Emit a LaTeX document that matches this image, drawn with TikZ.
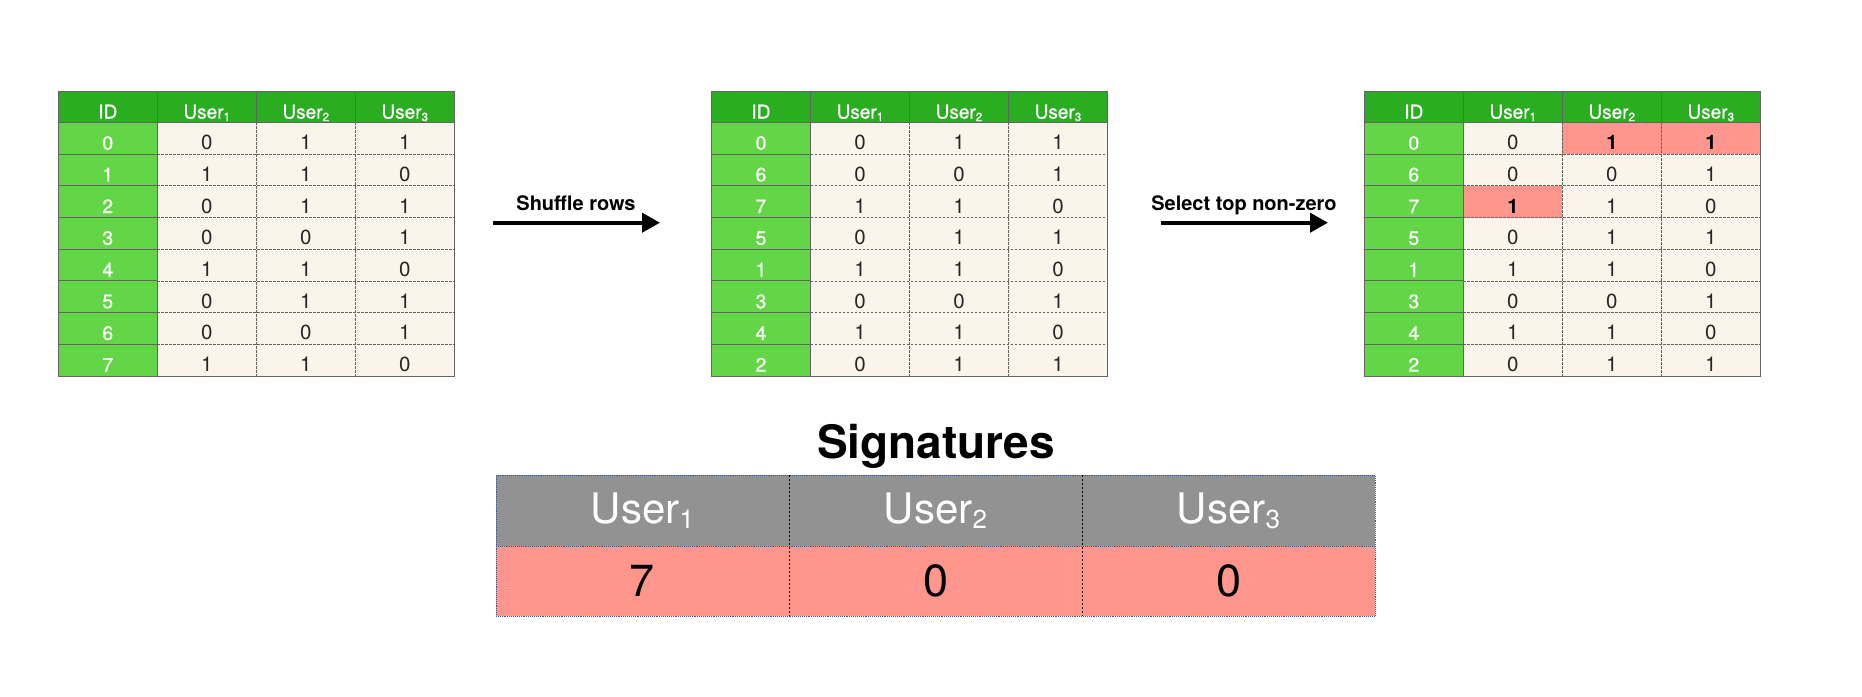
\documentclass[tikz,border=0pt]{standalone}
\usepackage{fontspec}
\setmainfont{TeX Gyre Heros}
\newfontface\mediumface{TeX Gyre Heros}[FakeBold=0.7]
\usepackage{graphicx}
\usetikzlibrary{arrows.meta}

\definecolor{hdrgreen}{RGB}{42,173,32}
\definecolor{idgreen}{RGB}{98,214,70}
\definecolor{cream}{RGB}{249,245,235}
\definecolor{hitpink}{RGB}{255,150,142}
\definecolor{gridgray}{RGB}{100,100,100}
\definecolor{sighead}{RGB}{146,146,146}
\definecolor{sigframe}{RGB}{50,90,150}

% "User" with a small lowered index
\newcommand\usr[1]{User\raisebox{-0.25ex}{\scalebox{0.62}{#1}}}

\tikzset{
  cell/.style={minimum width=99pt, minimum height=31.7pt, inner sep=0pt,
    outer sep=0pt, anchor=center, text height=23pt, text depth=0pt,
    font=\fontsize{20.5}{20.5}\selectfont},
  hdrcell/.style={cell, fill=hdrgreen, text=white, minimum height=30.7pt,
    font=\fontsize{19}{19}\mediumface},
  idcell/.style={cell, fill=idgreen, text=white,
    font=\fontsize{19.5}{19.5}\mediumface},
  plaincell/.style={cell, fill=cream, text=black!85},
  hitcell/.style={cell, fill=hitpink, text=black,
    font=\fontsize{20}{20}\selectfont\bfseries},
  solidgrid/.style={draw=gridgray, line width=1pt},
  dashgrid/.style={draw=gridgray, line width=0.8pt, dash pattern=on 2.2pt off 1.8pt},
  steparrow/.style={line width=4pt, -{Triangle[length=18pt,width=19pt]}},
  steplabel/.style={anchor=base, font=\fontsize{20}{20}\selectfont\bfseries},
  sigcell/.style={minimum width=293pt, inner sep=0pt, outer sep=0pt, anchor=center},
  sighdr/.style={sigcell, minimum height=71pt, fill=sighead, text=white,
    font=\fontsize{42}{42}\selectfont},
  sigval/.style={sigcell, minimum height=69.7pt, fill=hitpink, text=black,
    font=\fontsize{45}{45}\selectfont},
  sigouter/.style={draw=sigframe, line width=0.9pt, densely dotted},
  sigdiv/.style={draw=black, line width=0.9pt, dash pattern=on 2pt off 2pt},
}

% #1 name prefix, #2 left edge, #3 rows id/a/b/c/style-a/style-b/style-c
\newcommand\mhtable[3]{%
  \begin{scope}[shift={(#2,0)}]
    \node[hdrcell] (#1-h-0) at (49.5,107.05) {ID};
    \node[hdrcell] (#1-h-1) at (148.5,107.05) {\usr{1}};
    \node[hdrcell] (#1-h-2) at (247.5,107.05) {\usr{2}};
    \node[hdrcell] (#1-h-3) at (346.5,107.05) {\usr{3}};
    \foreach \id/\a/\b/\c/\sa/\sb/\sc [count=\r] in {#3} {
      \node[idcell] (#1-\r-0) at (49.5,{122.4+(\r-0.5)*31.7}) {\id};
      \node[\sa] (#1-\r-1) at (148.5,{122.4+(\r-0.5)*31.7}) {\a};
      \node[\sb] (#1-\r-2) at (247.5,{122.4+(\r-0.5)*31.7}) {\b};
      \node[\sc] (#1-\r-3) at (346.5,{122.4+(\r-0.5)*31.7}) {\c};
    }
    % grid lines over the cell fills
    \foreach \r in {1,...,7} {
      \draw[solidgrid] (#1-\r-0.south west) -- (#1-\r-0.south east);
      \draw[dashgrid] (#1-\r-1.south west) -- (#1-\r-3.south east);
    }
    \draw[dashgrid] (#1-1-2.north west) -- (#1-8-2.south west);
    \draw[dashgrid] (#1-1-3.north west) -- (#1-8-3.south west);
    \draw[solidgrid] (#1-h-1.north west) -- (#1-8-1.south west);
    \draw[solidgrid] (#1-h-2.north west) -- (#1-h-2.south west);
    \draw[solidgrid] (#1-h-3.north west) -- (#1-h-3.south west);
    \draw[solidgrid] (#1-h-0.south west) -- (#1-h-3.south east);
    \draw[solidgrid] (#1-h-0.north west) rectangle (#1-8-3.south east);
  \end{scope}%
}

\begin{document}
\begin{tikzpicture}[x=1pt, y=-1pt]
  \useasboundingbox[fill=white] (0,0) rectangle (1862,696);

  % original matrix
  \mhtable{ta}{58.3}{0/0/1/1/plaincell/plaincell/plaincell,
    1/1/1/0/plaincell/plaincell/plaincell,
    2/0/1/1/plaincell/plaincell/plaincell,
    3/0/0/1/plaincell/plaincell/plaincell,
    4/1/1/0/plaincell/plaincell/plaincell,
    5/0/1/1/plaincell/plaincell/plaincell,
    6/0/0/1/plaincell/plaincell/plaincell,
    7/1/1/0/plaincell/plaincell/plaincell}

  % shuffled rows
  \mhtable{tb}{711.5}{0/0/1/1/plaincell/plaincell/plaincell,
    6/0/0/1/plaincell/plaincell/plaincell,
    7/1/1/0/plaincell/plaincell/plaincell,
    5/0/1/1/plaincell/plaincell/plaincell,
    1/1/1/0/plaincell/plaincell/plaincell,
    3/0/0/1/plaincell/plaincell/plaincell,
    4/1/1/0/plaincell/plaincell/plaincell,
    2/0/1/1/plaincell/plaincell/plaincell}

  % first non-zero entry per column
  \mhtable{tc}{1364.3}{0/0/1/1/plaincell/hitcell/hitcell,
    6/0/0/1/plaincell/plaincell/plaincell,
    7/1/1/0/hitcell/plaincell/plaincell,
    5/0/1/1/plaincell/plaincell/plaincell,
    1/1/1/0/plaincell/plaincell/plaincell,
    3/0/0/1/plaincell/plaincell/plaincell,
    4/1/1/0/plaincell/plaincell/plaincell,
    2/0/1/1/plaincell/plaincell/plaincell}

  % step arrows
  \coordinate (a1s) at (493,222.7);
  \coordinate (a1e) at (660,222.7);
  \coordinate (a2s) at (1161,222.7);
  \coordinate (a2e) at (1328,222.7);
  \draw[steparrow] (a1s) -- (a1e);
  \draw[steparrow] (a2s) -- (a2e);
  \node[steplabel] (l1) at (576,210.7) {Shuffle rows};
  \node[steplabel] (l2) at (1244,210.7) {Select top non-zero};

  % signature table
  \node[anchor=base, font=\fontsize{46}{46}\selectfont\bfseries] (title) at (936,458) {Signatures};
  \node[sighdr] (sh1) at (642.5,510.8) {\usr{1}};
  \node[sighdr] (sh2) at (935.5,510.8) {\usr{2}};
  \node[sighdr] (sh3) at (1228.5,510.8) {\usr{3}};
  \node[sigval] (sv1) at (642.5,581.15) {7};
  \node[sigval] (sv2) at (935.5,581.15) {0};
  \node[sigval] (sv3) at (1228.5,581.15) {0};
  \draw[sigdiv] (sh2.north west) -- (sv2.south west);
  \draw[sigdiv] (sh3.north west) -- (sv3.south west);
  \draw[sigouter] (sh1.south west) -- (sh3.south east);
  \draw[sigouter] (sh1.north west) rectangle (sv3.south east);
\end{tikzpicture}
\end{document}
